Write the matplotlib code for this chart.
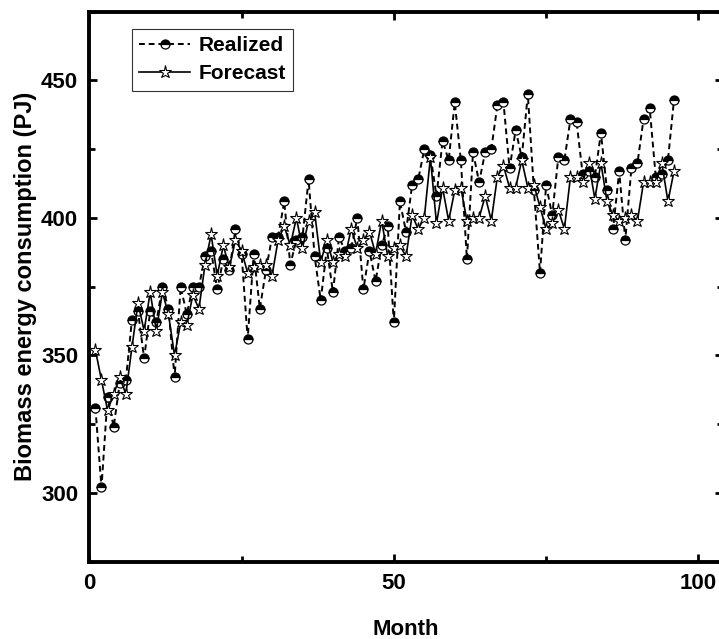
import numpy as np
import matplotlib
matplotlib.use("Agg")
import matplotlib.pyplot as plt
from matplotlib.ticker import MultipleLocator

plt.rcParams['font.family'] = ['Liberation Sans', 'DejaVu Sans']
plt.rcParams['font.weight'] = 'bold'

# --- donnees ---
months = np.arange(1, 97)
realized = [331, 302, 335, 324, 340, 341, 363, 366, 349, 366,
            362, 375, 367, 342, 375, 365, 375, 375, 386, 388,
            374, 385, 381, 396, 387, 356, 387, 367, 381, 393,
            393, 406, 383, 392, 393, 414, 386, 370, 389, 373,
            393, 388, 389, 400, 374, 388, 377, 390, 397, 362,
            406, 395, 412, 414, 425, 423, 408, 428, 421, 442,
            421, 385, 424, 413, 424, 425, 441, 442, 418, 432,
            422, 445, 410, 380, 412, 401, 422, 421, 436, 435,
            416, 417, 415, 431, 410, 396, 417, 392, 418, 420,
            436, 440, 415, 416, 421, 443]
forecast = [352, 341, 330, 336, 342, 336, 353, 369, 359, 373,
            359, 373, 365, 350, 362, 361, 372, 367, 383, 394,
            379, 390, 382, 392, 388, 380, 382, 383, 383, 379,
            392, 397, 390, 400, 389, 399, 402, 384, 392, 384,
            387, 386, 396, 389, 392, 395, 387, 399, 386, 389,
            390, 386, 401, 396, 400, 422, 398, 411, 399, 410,
            411, 399, 400, 400, 408, 399, 415, 419, 411, 411,
            421, 411, 412, 404, 396, 398, 403, 396, 415, 415,
            413, 420, 407, 420, 406, 401, 399, 400, 401, 399,
            413, 413, 413, 420, 406, 417]

fig = plt.figure(figsize=(7.19, 6.39), dpi=100)
ax = fig.add_axes([0.1242, 0.121, 0.881, 0.8606])

ax.plot(months, realized, linestyle=(0, (3, 2)), color='black', lw=1.4,
        marker='o', markersize=6.5, fillstyle='top', markerfacecolor='black',
        markerfacecoloralt='white', markeredgecolor='black', markeredgewidth=0.9,
        label='Realized')
ax.plot(months, forecast, linestyle='-', color='black', lw=1.2,
        marker='*', markersize=9.5, markerfacecolor='white',
        markeredgecolor='black', markeredgewidth=0.8, label='Forecast')

ax.set_xlim(0, 104)
ax.set_ylim(275, 475)
ax.xaxis.set_major_locator(MultipleLocator(50))
ax.xaxis.set_minor_locator(MultipleLocator(25))
ax.yaxis.set_major_locator(MultipleLocator(50))
ax.yaxis.set_minor_locator(MultipleLocator(25))
ax.tick_params(which='both', direction='in', top=True, right=True, width=2,
               labelsize=16, pad=8)
ax.tick_params(which='major', length=6)
ax.tick_params(which='minor', length=4)
for s in ax.spines.values():
    s.set_linewidth(2.8)

ax.set_xlabel('Month', fontsize=16, fontweight='bold', labelpad=18)
ax.set_ylabel('Biomass energy consumption (PJ)', fontsize=17, fontweight='bold', labelpad=3)

leg = ax.legend(loc='upper left', bbox_to_anchor=(0.0675, 0.969), borderaxespad=0,
                fontsize=15, frameon=True, fancybox=False, handlelength=2.45,
                handletextpad=0.4, borderpad=0.35, labelspacing=0.45)
leg.get_frame().set_edgecolor('black')
leg.get_frame().set_linewidth(0.8)

fig.savefig('out.png', dpi=100, facecolor='white')
